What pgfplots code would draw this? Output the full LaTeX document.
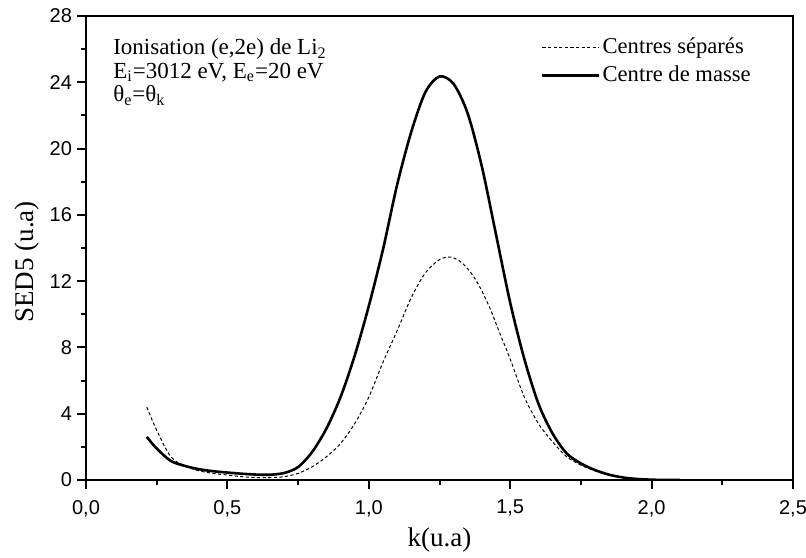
\documentclass[border=0pt]{standalone}
\usepackage{fontspec}
\setmainfont{Liberation Serif}
\newfontfamily\arialfont{Liberation Sans}
\usepackage{pgfplots}
\pgfplotsset{compat=1.18}

\pgfplotstableread{
x y
0.215 2.6
0.25 1.9
0.30 1.15
0.35 0.85
0.40 0.65
0.45 0.53
0.50 0.45
0.55 0.38
0.60 0.33
0.65 0.32
0.70 0.42
0.75 0.78
0.80 1.7
0.85 3.1
0.90 5.0
0.95 7.5
1.00 10.5
1.05 13.9
1.10 17.8
1.15 21.0
1.20 23.4
1.25 24.35
1.30 23.9
1.35 22.1
1.40 18.9
1.45 14.8
1.50 10.7
1.55 7.3
1.60 4.6
1.65 2.8
1.70 1.6
1.75 1.0
1.80 0.6
1.85 0.32
1.90 0.15
1.95 0.06
2.00 0.02
2.05 0.0
2.10 0.0
}\solid

\pgfplotstableread{
x y
0.215 4.4
0.25 3.0
0.30 1.4
0.35 0.85
0.40 0.55
0.45 0.40
0.50 0.30
0.55 0.20
0.60 0.15
0.65 0.15
0.70 0.20
0.75 0.40
0.80 0.80
0.85 1.4
0.90 2.2
0.95 3.4
1.00 5.0
1.05 7.1
1.10 9.0
1.15 11.0
1.20 12.5
1.25 13.3
1.29 13.45
1.33 13.1
1.37 12.3
1.40 11.4
1.43 10.3
1.46 9.0
1.50 7.3
1.55 5.0
1.60 3.4
1.65 2.3
1.70 1.4
1.75 0.9
1.80 0.55
1.85 0.3
1.90 0.15
1.95 0.07
2.00 0.02
2.05 0.0
}\dashed

\begin{document}
\begin{tikzpicture}
\begin{axis}[
  name=ax,
  scale only axis,
  width=353.5pt, height=232pt,
  xmin=0, xmax=2.5, ymin=0, ymax=28,
  xtick={0,0.5,...,2.5},
  ytick={0,4,...,28},
  minor x tick num=1,
  minor y tick num=1,
  tick align=outside,
  xtick pos=bottom, ytick pos=left,
  major tick length=4.5pt, minor tick length=2.5pt,
  every tick/.style={black, line width=1pt},
  axis line style={line width=1.4pt},
  tick label style={font=\arialfont\fontsize{10}{10}\selectfont},
  /pgf/number format/assume math mode=true,
  x tick label style={yshift=-2pt},
  y tick label style={xshift=1pt},
  xticklabel style={/pgf/number format/.cd, fixed, fixed zerofill, precision=1, use comma},
  yticklabel style={/pgf/number format/.cd, fixed, precision=0},
  xlabel={k(u.a)},
  ylabel={SED5 (u.a)},
  label style={font=\fontsize{13.5}{13.5}\selectfont},
  xlabel style={at={(axis description cs:0.5,-0.129)}, anchor=center},
  ylabel style={at={(axis description cs:-0.083,0.47)}, anchor=center},
  legend style={draw=none, fill=none, at={(axis description cs:0.643,0.963)}, anchor=north west,
    font=\fontsize{11.3}{11.3}\selectfont, row sep=0pt, inner sep=0pt,
    nodes={inner sep=1pt, text height=9pt, text depth=3pt}},
  legend cell align=left,
  legend image code/.code={\draw[#1] (0pt,0pt) -- (28.5pt,0pt);},
]
\addplot[black, line width=0.5pt, dash pattern=on 1.6pt off 1.2pt, smooth] table[x=x,y=y] {\dashed};
\addlegendentry{Centres séparés}
\addplot[black, line width=1.3pt, smooth] table[x=x,y=y] {\solid};
\addlegendentry{Centre de masse}
\node[anchor=north west, align=left, inner sep=0pt, font=\fontsize{11.5}{11.8}\selectfont]
  at (axis description cs:0.038,0.952)
  {Ionisation (e,2e) de Li\textsubscript{2}\\
   E\textsubscript{i}=3012 eV, E\textsubscript{e}=20 eV\\
   θ\textsubscript{e}=θ\textsubscript{k}};
\end{axis}
\pgfresetboundingbox
\useasboundingbox ([shift={(-43pt,-38.5pt)}]ax.south west) rectangle ([shift={(6.5pt,8pt)}]ax.north east);
\end{tikzpicture}
\end{document}
